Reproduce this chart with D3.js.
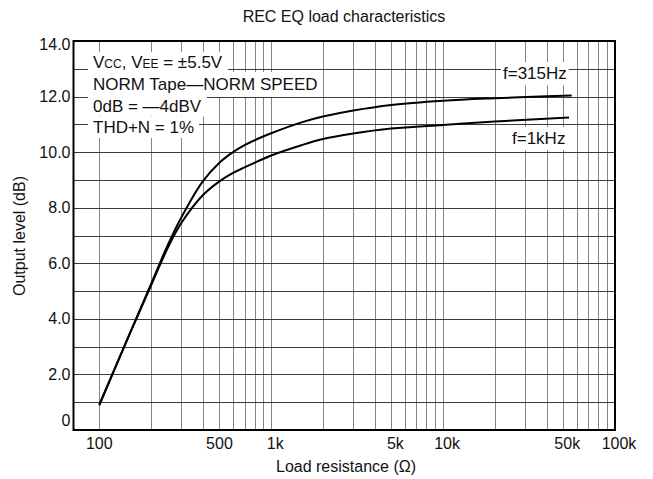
<!DOCTYPE html>
<html><head><meta charset="utf-8">
<script src="https://cdn.jsdelivr.net/npm/d3@7"></script>
<style>
body{margin:0;background:#fff}
text{font-family:"Liberation Sans",Arial,Helvetica,sans-serif;fill:#111}
</style>
</head><body><svg id="c" width="653" height="479"></svg>
<script>
// ---- data ----
const loads315 = [100,150,200,250,300,400,500,600,700,850,1000,1500,2000,3000,5000,10000,20000,40000,56000];
const level315 = [0.9,3.45,5.25,6.65,7.65,8.95,9.62,10.0,10.25,10.5,10.68,11.07,11.28,11.5,11.7,11.85,11.94,12.01,12.04];
const loads1k  = [100,150,200,250,300,400,500,600,700,1000,1500,2000,3000,5000,10000,20000,54000];
const level1k  = [0.9,3.45,5.2,6.55,7.45,8.45,8.95,9.25,9.45,9.88,10.25,10.47,10.67,10.85,10.98,11.1,11.25];
const yTicks = [0,2,4,6,8,10,12,14];
const yTickLabels = ["0","2.0","4.0","6.0","8.0","10.0","12.0","14.0"];
const xTicks = [100,500,1000,5000,10000,50000,100000];
const xTickNums = ["100","500","1","5","10","50","100"];
const xTickSuffix = ["","","k","k","k","k","k"];
const notes = ["NORM Tape\u2014NORM SPEED","0dB = \u20144dBV","THD+N = 1%"];
const seriesLabels = ["f=315Hz","f=1kHz"];

// ---- layout ----
const L = 73.5, R = 615, T = 41, B = 430;
const svg = d3.select("#c");
const x = d3.scaleLog().domain([70.8, 100000]).range([L, R]);
const y = d3.scaleLinear().domain([0, 14]).range([B, T]);

// grid
const gx = x.ticks().filter(v => v >= 100 && v < 100000);
svg.append("g").selectAll("line").data(gx).join("line")
  .attr("x1", d => Math.round(x(d)) + 0.5).attr("x2", d => Math.round(x(d)) + 0.5)
  .attr("y1", T).attr("y2", B)
  .attr("stroke", "#858585").attr("stroke-width", 1);
const gy = d3.range(1, 14);
svg.append("g").selectAll("line").data(gy).join("line")
  .attr("y1", d => Math.round(y(d)) + 0.5).attr("y2", d => Math.round(y(d)) + 0.5)
  .attr("x1", L).attr("x2", R)
  .attr("stroke", "#3a3a3a").attr("stroke-width", 1);

// curves
const line = d3.line().x(d => x(d[0])).y(d => y(d[1])).curve(d3.curveCatmullRom.alpha(0.5));
svg.append("path").datum(d3.zip(loads315, level315)).attr("d", line)
  .attr("fill", "none").attr("stroke", "#000").attr("stroke-width", 2);
svg.append("path").datum(d3.zip(loads1k, level1k)).attr("d", line)
  .attr("fill", "none").attr("stroke", "#000").attr("stroke-width", 2);

// frame
svg.append("rect").attr("x", L).attr("y", T).attr("width", R - L).attr("height", B - T)
  .attr("fill", "none").attr("stroke", "#000").attr("stroke-width", 2);

// helper: white box behind text
function boxed(g, txt, padX, padY) {
  const bb = txt.node().getBBox();
  g.insert("rect", "text").attr("x", bb.x - padX).attr("y", bb.y - padY)
    .attr("width", bb.width + 2 * padX).attr("height", bb.height + 2 * padY).attr("fill", "#fff");
}

// annotation block
const ann = svg.append("g");
const l1g = ann.append("g");
const l1 = l1g.append("text").attr("x", 93).attr("y", 68).attr("font-size", 17);
l1.append("tspan").text("V");
l1.append("tspan").attr("font-size", 12).text("CC");
l1.append("tspan").text(", V");
l1.append("tspan").attr("font-size", 12).text("EE");
l1.append("tspan").text(" = \u00b15.5V");
boxed(l1g, l1, 5, 1);
notes.forEach((s, i) => {
  const g = ann.append("g");
  const t = g.append("text").attr("x", 93).attr("y", 90 + i * 21.5).attr("font-size", 17).text(s);
  boxed(g, t, 5, i === 0 ? 3 : 1);
});

// series labels
const sl = [[503, 79.3], [512, 144]];
seriesLabels.forEach((s, i) => {
  const g = svg.append("g");
  const t = g.append("text").attr("x", sl[i][0]).attr("y", sl[i][1]).attr("font-size", 17).text(s);
  boxed(g, t, 2, 2);
});

// y tick labels
svg.append("g").selectAll("text").data(yTicks).join("text")
  .attr("x", L - 3)
  .attr("y", (d) => d === 0 ? y(d) - 10 : (d === 14 ? y(d) + 3 : y(d)))
  .attr("dy", "0.35em").attr("text-anchor", "end").attr("font-size", 16)
  .text((d, i) => yTickLabels[i]);

// x tick labels: numeric part centered on tick
xTicks.forEach((v, i) => {
  const t = svg.append("text").attr("y", 449).attr("font-size", 16);
  t.append("tspan").text(xTickNums[i]);
  const nw = t.node().getComputedTextLength();
  t.append("tspan").text(xTickSuffix[i]);
  t.attr("x", x(v) - nw / 2);
});

// titles
svg.append("text").attr("x", 344).attr("y", 22).attr("text-anchor", "middle").attr("font-size", 16)
  .text("REC EQ load characteristics");
svg.append("text").attr("x", 346).attr("y", 472).attr("text-anchor", "middle").attr("font-size", 16)
  .text("Load resistance (\u03a9)");
svg.append("text").attr("transform", "translate(25,236) rotate(-90)").attr("text-anchor", "middle")
  .attr("font-size", 16).text("Output level (dB)");
</script>
</body></html>
